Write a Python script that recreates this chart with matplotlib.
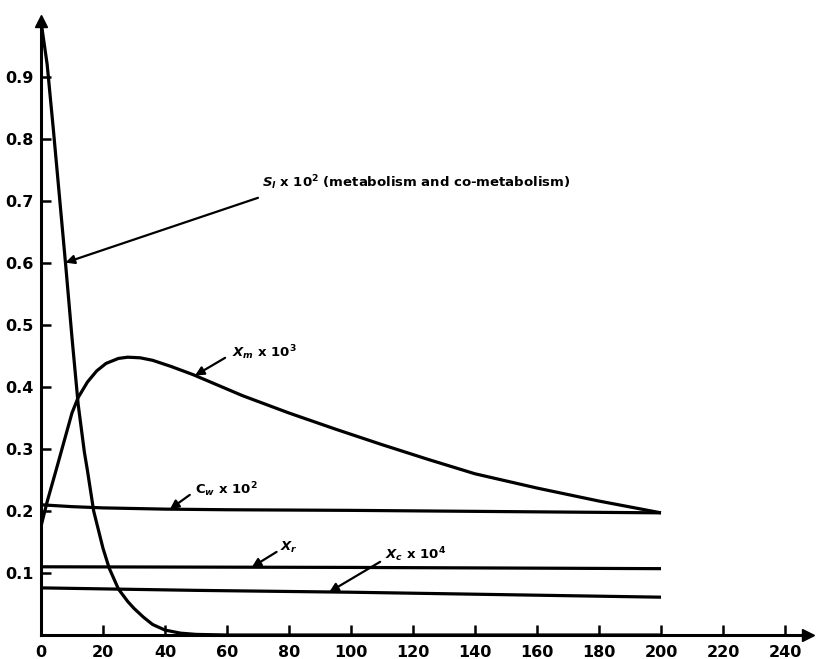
import numpy as np
import matplotlib.pyplot as plt

plt.rcParams["mathtext.fontset"] = "custom"
plt.rcParams["mathtext.it"] = "DejaVu Sans:italic:bold"
plt.rcParams["mathtext.rm"] = "DejaVu Sans:bold"

# Curves (time vs. scaled concentration)
s_t = [0, 2, 4, 6, 8, 10, 12, 14, 15, 17, 20, 22, 25, 28, 30, 33, 36, 40, 45, 50, 60, 100, 150, 200]
s_v = [0.99, 0.92, 0.815, 0.705, 0.595, 0.48, 0.372, 0.295, 0.265, 0.20, 0.14, 0.108, 0.074,
       0.054, 0.043, 0.029, 0.017, 0.008, 0.003, 0.001, 0.0, 0.0, 0.0, 0.0]

xm_t = [0, 2, 5, 8, 10, 12, 15, 18, 21, 25, 28, 32, 36, 42, 49, 57, 65, 80, 95, 110, 125, 140, 160, 180, 200]
xm_v = [0.175, 0.215, 0.268, 0.322, 0.358, 0.383, 0.408, 0.426, 0.438, 0.446, 0.448, 0.447, 0.443,
        0.433, 0.42, 0.403, 0.386, 0.358, 0.332, 0.307, 0.283, 0.26, 0.237, 0.216, 0.197]

cw_t = [0, 10, 20, 40, 60, 100, 150, 200]
cw_v = [0.21, 0.207, 0.205, 0.203, 0.202, 0.201, 0.199, 0.197]

xr_t = [0, 100, 200]
xr_v = [0.11, 0.109, 0.107]

xc_t = [0, 50, 100, 150, 200]
xc_v = [0.076, 0.072, 0.069, 0.065, 0.061]

xticks = list(range(0, 241, 20))
yticks = [0.1, 0.2, 0.3, 0.4, 0.5, 0.6, 0.7, 0.8, 0.9]
ytick_labels = ["0.1", "0.2", "0.3", "0.4", "0.5", "0.6", "0.7", "0.8", "0.9"]

fig = plt.figure(figsize=(8.16, 6.59), dpi=100)
ax = fig.add_axes([0.0502, 0.0364, 0.9498, 0.9636])

lw = 2.3
for t, v in [(s_t, s_v), (xm_t, xm_v), (cw_t, cw_v), (xr_t, xr_v), (xc_t, xc_v)]:
    ax.plot(t, v, color="black", lw=lw, solid_capstyle="butt")

ax.set_xlim(0, 250)
ax.set_ylim(0, 1.024)

# axes with arrow heads
for side in ["top", "right"]:
    ax.spines[side].set_visible(False)
for side in ["left", "bottom"]:
    ax.spines[side].set_linewidth(2.2)
ax.spines["left"].set_bounds(0, 0.99)
ax.spines["bottom"].set_bounds(0, 246)
ax.plot(0, 0.99, "^", color="black", ms=8, clip_on=False)
ax.plot(247.5, 0, ">", color="black", ms=8, clip_on=False)

ax.set_xticks(xticks)
ax.set_yticks(yticks)
ax.set_yticklabels(ytick_labels)
ax.tick_params(direction="in", length=7, width=1.8, labelsize=11.5)
ax.tick_params(axis="x", pad=7)
ax.tick_params(axis="y", pad=5)
for lab in ax.get_xticklabels() + ax.get_yticklabels():
    lab.set_fontweight("bold")

# labels with pointer arrows
arrow = dict(arrowstyle="-|>", lw=1.6, color="black", mutation_scale=13,
             shrinkA=0, shrinkB=0)
labels = [
    (r"$S_l$ x 10$^2$ (metabolism and co-metabolism)", (71.3, 0.729), (70, 0.705), 7.9, s_t, s_v),
    (r"$X_m$ x 10$^3$", (61.6, 0.455), (59.4, 0.447), 49.7, xm_t, xm_v),
    (r"C$_w$ x 10$^2$", (49.7, 0.234), (48, 0.226), 41.6, cw_t, cw_v),
    (r"$X_r$", (77, 0.142), (76, 0.134), 68, xr_t, xr_v),
    (r"$X_c$ x 10$^4$", (111, 0.129), (109.4, 0.118), 93, xc_t, xc_v),
]
for text, tpos, start, tip_t, t, v in labels:
    tip = (tip_t, np.interp(tip_t, t, v))
    ax.annotate("", xy=tip, xytext=start, arrowprops=arrow)
    ax.text(tpos[0], tpos[1], text, ha="left", va="center", fontsize=9.5, fontweight="bold")

fig.savefig("out.png", dpi=100)
